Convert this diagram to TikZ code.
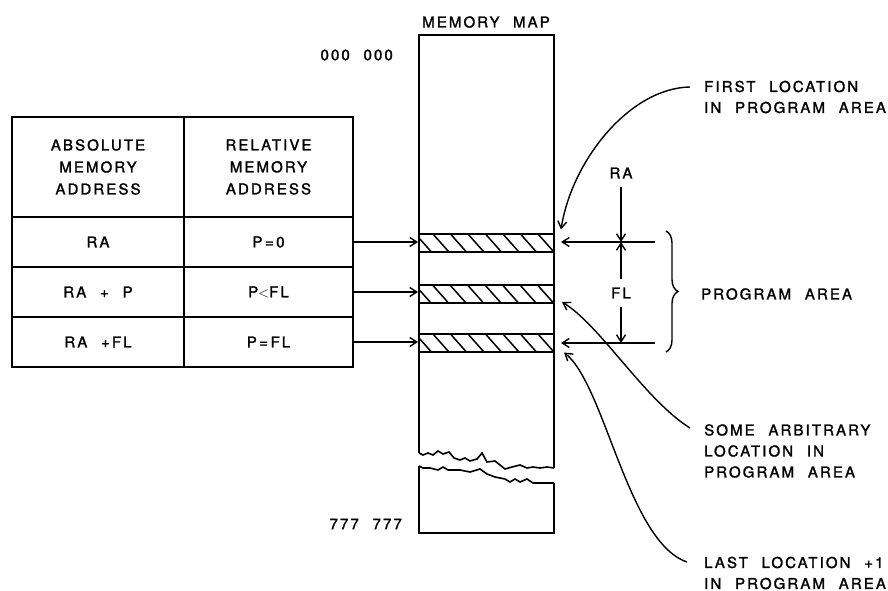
\documentclass[tikz,border=0pt]{standalone}
\usepackage{fontspec}
\setmainfont{TeX Gyre Heros}[LetterSpace=14,WordSpace=2.2,FakeBold=1.6]
\usetikzlibrary{arrows.meta, positioning, decorations.pathreplacing}
\tikzstyle{cell} = [rectangle, draw=black, line width=1.6pt, inner sep=0pt, outer sep=0pt, minimum width=172pt, minimum height=50pt, text centered, font=\fontsize{15}{22}\selectfont]
\tikzstyle{head} = [cell, minimum height=100pt, align=center]
\tikzstyle{arrow} = [line width=1.4pt,->,>={Straight Barb[length=7pt,width=9pt]}]
\tikzset{
    band/.style={
        rectangle,
        draw=black,
        line width=2pt,
        minimum width=135pt,
        minimum height=18pt,
        inner sep=0pt,
        path picture={
            \foreach \k in {0,...,8}
                \draw[line width=1.5pt] ([xshift=\k*17.5pt-4pt]path picture bounding box.north west) -- ++(16pt,-18pt);
        }
    },
    note/.style={
        anchor=west,
        align=left,
        inner sep=3pt,
        font=\fontsize{15}{21}\selectfont
    },
    dim/.style={
        inner xsep=2pt,
        inner ysep=8pt,
        font=\fontsize{15}{21}\selectfont
    }
}

\begin{document}
\begin{tikzpicture}[x=1pt, y=-1pt]
	\useasboundingbox (0,0) rectangle (888,591);
	% table
	\node (absHead) [head] at (98,167) {ABSOLUTE\\MEMORY\\ADDRESS};
	\node (relHead) [head, minimum width=169pt, right=0pt of absHead] {RELATIVE\\MEMORY\\ADDRESS};
	\node (absFirst) [cell, below=0pt of absHead] {RA};
	\node (relFirst) [cell, minimum width=169pt, below=0pt of relHead] {P\,=\,0};
	\node (absSome) [cell, below=0pt of absFirst] {RA + P};
	\node (relSome) [cell, minimum width=169pt, below=0pt of relFirst] {P$<$FL};
	\node (absLast) [cell, below=0pt of absSome] {RA +FL};
	\node (relLast) [cell, minimum width=169pt, below=0pt of relSome] {P\,=\,FL};
	% memory map
	\draw[line width=1.6pt] (419,453) -- (419,35) -- (554,35) -- (554,468);
	\draw[line width=1.6pt] (419,466) -- (419,533) -- (554,533) -- (554,483);
	\draw[line width=1.6pt] (419,453) -- (423,455) -- (428,453) -- (433,455) -- (438,451) -- (443,454)
		-- (449,452) -- (454,458) -- (460,460) -- (465,458) -- (470,461) -- (477,459) -- (482,453)
		-- (487,462) -- (495,461) -- (505,469) -- (512,467) -- (520,465) -- (527,468) -- (533,467)
		-- (540,468) -- (547,467) -- (554,468);
	\draw[line width=1.6pt] (419,466) -- (423,468) -- (430,468) -- (438,470) -- (443,467) -- (448,470)
		-- (460,470) -- (470,472) -- (480,469) -- (487,474) -- (495,477) -- (505,479) -- (510,482)
		-- (515,479) -- (520,482) -- (527,479) -- (533,483) -- (543,483) -- (554,483);
	\node (mapTitle) [dim, inner ysep=2pt] at (486,22) {MEMORY\hspace{0.9em}MAP};
	\node (mapTop) [dim, inner ysep=2pt, anchor=east] at (395,55) {000 000};
	\node (mapEnd) [dim, inner ysep=2pt, anchor=east] at (404,524) {777 777};
	\node (band1) [band] at (486.5,242.5) {};
	\node (band2) [band] at (486.5,294) {};
	\node (band3) [band] at (486.5,342.5) {};
	\draw [arrow] (relFirst.east) -- (relFirst.east -| band1.west);
	\draw [arrow] (relSome.east) -- (relSome.east -| band2.west);
	\draw [arrow] (relLast.east) -- (relLast.east -| band3.west);
	% dimensions
	\coordinate (topEnd) at (655,242);
	\coordinate (botEnd) at (655,343);
	\draw [arrow, shorten >=6pt] (topEnd) -- (topEnd -| band1.east);
	\draw [arrow, shorten >=6pt] (botEnd) -- (botEnd -| band3.east);
	\node (ra) [dim] at (621,173) {RA};
	\node (fl) [dim] at (621,293) {FL};
	\draw [arrow] (ra) -- (ra |- topEnd);
	\draw [arrow] (fl) -- (fl |- topEnd);
	\draw [arrow] (fl) -- (fl |- botEnd);
	\draw [line width=1.4pt, decoration={brace, amplitude=12pt}, decorate] (666,231) -- (666,352);
	\node (area) [note] at (698,294) {PROGRAM AREA};
	% notes
	\node (first) [note] at (701,97) {FIRST LOCATION\\IN PROGRAM AREA};
	\node (some) [note] at (701,451) {SOME ARBITRARY\\LOCATION IN\\PROGRAM AREA};
	\node (last) [note] at (701,573) {LAST LOCATION +1\\IN PROGRAM AREA};
	\coordinate (firstTail) at (690,87);
	\coordinate (someTail) at (690,428);
	\coordinate (lastTail) at (687,562);
	\draw [arrow] (firstTail) .. controls (630,88) and (572,160) .. ([shift={(6pt,3pt)}]band1.north east);
	\draw [arrow] (someTail) .. controls (645,400) and (600,325) .. ([shift={(7pt,2pt)}]band2.south east);
	\draw [arrow] (lastTail) .. controls (628,542) and (605,385) .. ([xshift=9pt]band3.south east);
\end{tikzpicture}
\end{document}
